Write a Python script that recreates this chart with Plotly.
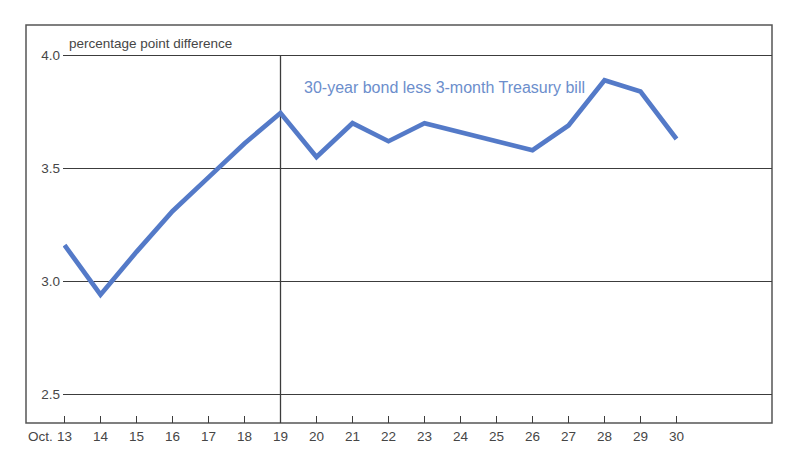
import plotly.graph_objects as go

# ---- data ----
days = list(range(13, 31))
spread = [3.16, 2.94, 3.13, 3.31, 3.46, 3.61, 3.745, 3.55, 3.70, 3.62,
          3.70, 3.66, 3.62, 3.58, 3.69, 3.89, 3.84, 3.63]
x_tick_vals = days
x_tick_text = [str(d) for d in days]
y_tick_vals = [2.5, 3.0, 3.5, 4.0]
y_tick_text = ["2.5", "3.0", "3.5", "4.0"]
event_day = 19
series_label = "30-year bond less 3-month Treasury bill"
y_title = "percentage point difference"
month_label = "Oct."

# ---- layout geometry (page pixels; page body has an 8px margin) ----
OFF = 8
W, H = 800 - OFF, 471 - OFF
box_left, box_right, box_top, box_bottom = 26, 772, 25, 423
plot_left = 63
px_per_day = 36.0
x0 = 13 - (64.5 - plot_left) / px_per_day
x1 = x0 + (box_right - plot_left) / px_per_day
px_per_unit = 226.0
y_hi = 4.0 + (55.5 - box_top) / px_per_unit
y_lo = 2.5 - (box_bottom - 394) / px_per_unit

LINE = "rgb(84,122,200)"
LABEL_BLUE = "rgb(108,142,204)"
GRID = "rgb(60,60,60)"
TXT = "rgb(70,70,70)"
FONT = "Liberation Sans, Arial, sans-serif"
FS = 13.5

fig = go.Figure()
fig.add_trace(go.Scatter(
    x=days, y=spread, mode="lines",
    line=dict(color=LINE, width=4.7),
    cliponaxis=False, hoverinfo="x+y", showlegend=False,
))

box_x0_paper = (box_left - plot_left) / (box_right - plot_left)

fig.update_layout(
    width=W, height=H,
    margin=dict(l=plot_left - OFF, r=800 - box_right, t=box_top - OFF, b=471 - box_bottom),
    paper_bgcolor="white", plot_bgcolor="white",
    font=dict(family=FONT, size=FS, color=TXT),
    xaxis=dict(
        range=[x0, x1], tickmode="array", tickvals=x_tick_vals, ticktext=x_tick_text,
        ticks="inside", ticklen=7, tickwidth=1.3, tickcolor=GRID,
        showgrid=False, zeroline=False, showline=False, ticklabelstandoff=3,
        tickfont=dict(size=FS, color=TXT),
    ),
    yaxis=dict(
        range=[y_lo, y_hi], tickmode="array", tickvals=y_tick_vals, ticktext=y_tick_text,
        showgrid=True, gridcolor=GRID, gridwidth=1.3, ticklabelstandoff=2,
        zeroline=False, showline=False, ticks="",
        tickfont=dict(size=FS, color=TXT),
    ),
    shapes=[
        dict(type="rect", xref="paper", yref="paper", x0=box_x0_paper, x1=1, y0=0, y1=1,
             line=dict(color="rgb(85,85,85)", width=1.5), layer="below"),
        dict(type="line", xref="x", yref="y", x0=event_day, x1=event_day, y0=y_lo, y1=4.0,
             line=dict(color=GRID, width=1.3), layer="below"),
    ],
    annotations=[
        dict(text=y_title, xref="paper", yref="y", x=0.005, y=4.0, xanchor="left",
             yanchor="bottom", yshift=2, showarrow=False, font=dict(size=FS, color=TXT)),
        dict(text=series_label, xref="x", yref="y", x=19.6, y=3.86, xanchor="left",
             yanchor="middle", showarrow=False, font=dict(size=16, color=LABEL_BLUE)),
        dict(text=month_label, xref="x", yref="paper", x=13, y=0, xanchor="right",
             yanchor="top", xshift=-10, yshift=-4, showarrow=False,
             font=dict(size=FS, color=TXT)),
    ],
)

fig.write_html("out.html")
